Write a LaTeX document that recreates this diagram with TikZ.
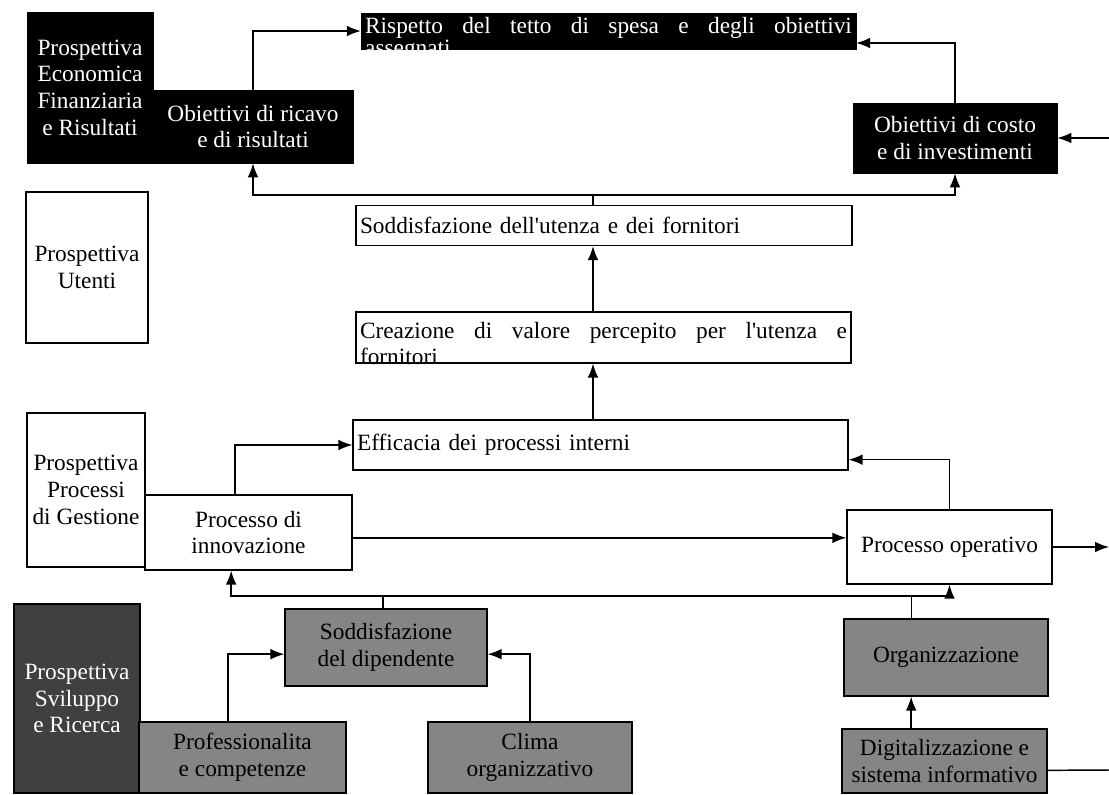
\documentclass[tikz,border=0pt]{standalone}
\usepackage{fontspec}
\setmainfont{Liberation Serif}[Ligatures=TeXOff]
\usetikzlibrary{arrows.meta, positioning}

\begin{document}
\begin{tikzpicture}[
        x=0.75pt, y=-0.75pt,
        >=Latex,
        every node/.style={font=\fontsize{17.5}{20}\selectfont},
        darkbox/.style={rectangle, draw, fill=black, text=white, align=center, inner sep=2pt},
        plainbox/.style={rectangle, draw, line width=0.9pt, align=center, inner sep=2pt},
        greybox/.style={rectangle, draw, line width=0.9pt, fill=black!48, align=center, inner sep=2pt},
        textbox/.style={rectangle, draw, line width=0.9pt, align=left, inner xsep=3pt, inner ysep=1pt},
        arrow/.style={-{Latex[length=10.5pt,width=8pt]}, line width=1.1pt},
        link/.style={line width=1.1pt}
    ]
        \useasboundingbox (0,0) rectangle (1109,795);

        % prospettiva economica
        \node[darkbox, minimum width=94.5pt, minimum height=113.25pt] (econ) at (90,87.5) {Prospettiva\\Economica\\Finanziaria\\e Risultati};
        \node[darkbox, minimum width=150pt, minimum height=54.75pt] (ricavo) at (253,126.5) {Obiettivi di ricavo\\e di risultati};
        \node[darkbox, align=justify, text width=365pt, inner xsep=3pt, inner ysep=1pt, text height=14.5pt, text depth=10.75pt, font=\fontsize{17.5}{14}\selectfont] (rispetto) at (608.5,31) {Rispetto del tetto di spesa e degli obiettivi\linebreak assegnati};
        \node[darkbox, minimum width=153pt, minimum height=52.5pt] (costo) at (955,138) {Obiettivi di costo\\e di investimenti};

        % prospettiva utenti
        \node[plainbox, minimum width=91.5pt, minimum height=113.25pt] (utenti) at (87,267.5) {Prospettiva\\Utenti};
        \node[textbox, text width=366pt, minimum height=30pt] (sodutenza) at (604,225.5) {Soddisfazione dell'utenza e dei fornitori};
        \node[textbox, align=justify, text width=365.25pt, text height=18.5pt, text depth=17.75pt] (creazione) at (603.5,337.5) {Creazione di valore percepito per l'utenza e\linebreak fornitori};

        % prospettiva processi
        \node[textbox, text width=365.25pt, minimum height=37.5pt] (efficacia) at (600.5,445) {Efficacia dei processi interni};
        \node[plainbox, minimum width=88.5pt, minimum height=115.5pt] (gestione) at (86,490) {Prospettiva\\Processi\\di Gestione};
        \node[plainbox, minimum width=155.25pt, minimum height=56.25pt] (innov) at (248.5,532.5) {Processo di\\innovazione};
        \node[plainbox, minimum width=153.75pt, minimum height=55.5pt] (operativo) at (949.5,547) {Processo operativo};

        % prospettiva sviluppo
        \node[greybox, fill=black!75, text=white, minimum width=94.5pt, minimum height=141.75pt] (sviluppo) at (77,698.5) {Prospettiva\\Sviluppo\\e Ricerca};
        \node[greybox, minimum width=155.25pt, minimum height=53.25pt] (prof) at (242.5,757.5) {Professionalita\\e competenze};
        \node[greybox, minimum width=151.5pt, minimum height=57.75pt] (soddip) at (386,647.5) {Soddisfazione\\del dipendente};
        \node[greybox, minimum width=153pt, minimum height=53.25pt] (clima) at (530,757.5) {Clima\\organizzativo};
        \node[greybox, minimum width=153pt, minimum height=57.75pt] (organiz) at (946,657.5) {Organizzazione};
        \node[greybox, minimum width=153.75pt, minimum height=48pt] (digital) at (944.5,761) {Digitalizzazione e\\sistema informativo};

        \coordinate (costoin) at (1109,138);
        \coordinate (opout) at (1109,547);
        \coordinate (digout) at (1109,770);
        \coordinate (topsplit) at (593,195);
        \coordinate (botsplit) at (383,596);

        \draw[arrow] (ricavo.north) |- (rispetto.west);
        \draw[arrow] (costo.north) |- ([yshift=-9pt]rispetto.east);
        \draw[arrow] (costoin) -- (costo.east);

        \draw[link] (sodutenza.north -| topsplit) -- (topsplit);
        \draw[arrow] (topsplit) -| (ricavo.south);
        \draw[arrow] (topsplit) -| (costo.south);
        \draw[arrow] (creazione.north -| topsplit) -- (sodutenza.south -| topsplit);
        \draw[arrow] (efficacia.north -| topsplit) -- (creazione.south -| topsplit);

        \draw[arrow] ([xshift=-10pt]innov.north) |- (efficacia.west);
        \draw[arrow] (operativo.north) |- ([yshift=-11pt]efficacia.east);
        \draw[arrow] ([yshift=-4pt]innov.east) -- ([yshift=-4pt]innov.east -| operativo.west);
        \draw[arrow] (operativo.east) -- (opout);

        \draw[link] (soddip.north -| botsplit) -- (botsplit);
        \draw[arrow] (botsplit) -| ([xshift=-13pt]innov.south);
        \draw[arrow] (botsplit) -| (operativo.south);
        \draw[link] ([xshift=-26pt]organiz.north) -- ([xshift=-26pt]organiz.north |- botsplit);
        \draw[arrow] ([xshift=-25pt]digital.north) -- ([xshift=-25pt]digital.north |- organiz.south);
        \draw[arrow] ([xshift=-11pt]prof.north) |- ([yshift=-5pt]soddip.west);
        \draw[arrow] (clima.north) |- ([yshift=-5pt]soddip.east);
        \draw[link] ([yshift=-7pt]digital.east) -- (digout);
    \end{tikzpicture}
\end{document}
